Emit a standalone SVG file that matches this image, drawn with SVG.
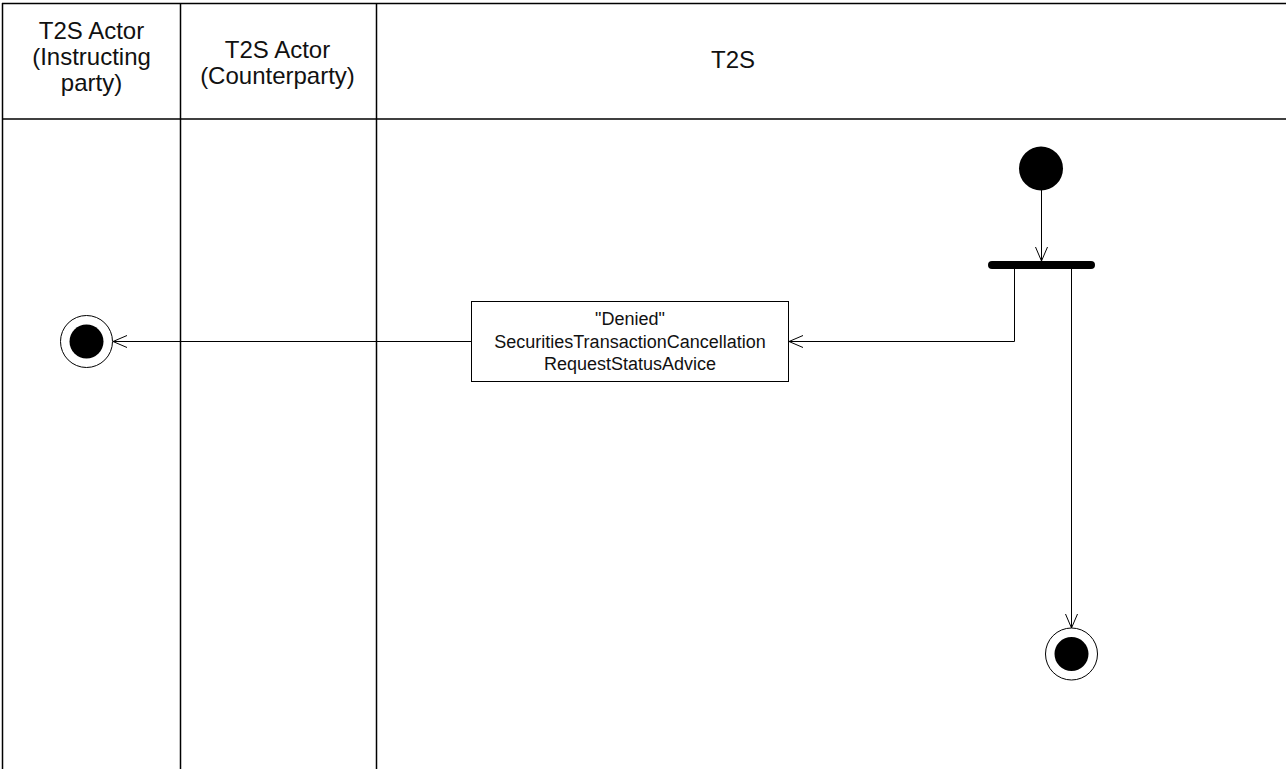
<svg xmlns="http://www.w3.org/2000/svg" width="1286" height="769" viewBox="0 0 1286 769">
<defs>
<style>
.lane{stroke:#000;stroke-width:1.5;fill:none}
.t{font-family:"Liberation Sans",Arial,sans-serif;font-size:24px;fill:#111;text-anchor:middle}
.bt{font-family:"Liberation Sans",Arial,sans-serif;font-size:18px;fill:#111;text-anchor:middle}
.c{stroke:#000;stroke-width:1;fill:none}
</style>
<marker id="arr" markerWidth="16" markerHeight="14" refX="15" refY="7" orient="auto" markerUnits="userSpaceOnUse">
<path d="M1,1 L15,7 L1,13" fill="none" stroke="#000" stroke-width="1"/>
</marker>
</defs>
<rect width="1286" height="769" fill="#fff"/>
<g id="lanes">
<line class="lane" x1="2" y1="3.5" x2="1286" y2="3.5"/>
<line class="lane" x1="2.5" y1="3" x2="2.5" y2="769"/>
<line class="lane" x1="2" y1="119" x2="1286" y2="119"/>
<line class="lane" x1="180.5" y1="3" x2="180.5" y2="769"/>
<line class="lane" x1="376.5" y1="3" x2="376.5" y2="769"/>
<text class="t" x="91.5" y="39">T2S Actor</text>
<text class="t" x="91.5" y="65">(Instructing</text>
<text class="t" x="91.5" y="91">party)</text>
<text class="t" x="277.5" y="58">T2S Actor</text>
<text class="t" x="277.5" y="84">(Counterparty)</text>
<text class="t" x="733" y="68">T2S</text>
</g>
<g id="start"><circle cx="1041" cy="168.5" r="22" fill="#000"/></g>
<g id="fork"><line x1="992" y1="265" x2="1091" y2="265" stroke="#000" stroke-width="8" stroke-linecap="round"/></g>
<g id="msg">
<rect x="471.5" y="301.5" width="317" height="80" fill="#fff" stroke="#000" stroke-width="1"/>
<text class="bt" x="630" y="325">"Denied"</text>
<text class="bt" x="630" y="348">SecuritiesTransactionCancellation</text>
<text class="bt" x="630" y="370">RequestStatusAdvice</text>
</g>
<g id="end1"><circle cx="86.5" cy="341.5" r="26" fill="#fff" stroke="#000" stroke-width="1"/><circle cx="86.5" cy="341.5" r="17" fill="#000"/></g>
<g id="end2"><circle cx="1071.5" cy="654" r="26" fill="#fff" stroke="#000" stroke-width="1"/><circle cx="1071.5" cy="654" r="17" fill="#000"/></g>
<g id="connectors">
<line class="c" x1="1041.5" y1="190" x2="1041.5" y2="261" marker-end="url(#arr)"/>
<polyline class="c" points="1014.5,269 1014.5,341.5 789,341.5" marker-end="url(#arr)"/>
<line class="c" x1="471" y1="341.5" x2="113" y2="341.5" marker-end="url(#arr)"/>
<line class="c" x1="1071.5" y1="269" x2="1071.5" y2="628" marker-end="url(#arr)"/>
</g>
</svg>
